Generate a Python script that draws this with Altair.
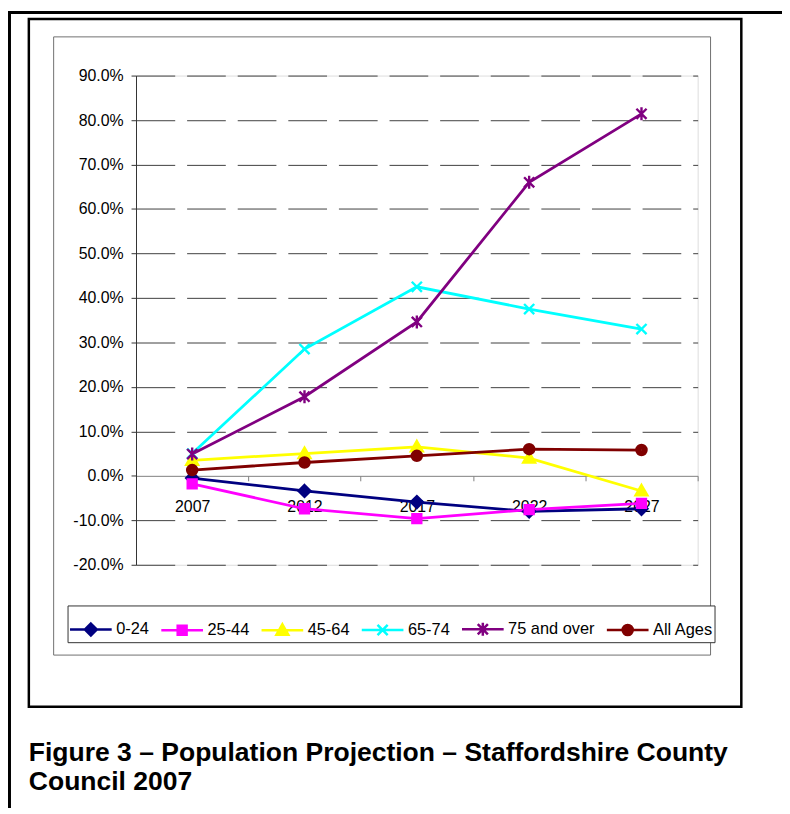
import altair as alt
import pandas as pd

# ---------------- data ----------------
years = ["2007", "2012", "2017", "2022", "2027"]
series = ["0-24", "25-44", "45-64", "65-74", "75 and over", "All Ages"]
v_0_24 = [-0.5, -3.4, -5.9, -8.0, -7.4]
v_25_44 = [-1.8, -7.4, -9.6, -7.6, -6.2]
v_45_64 = [3.5, 5.0, 6.5, 4.0, -3.4]
v_65_74 = [5.0, 28.5, 42.5, 37.5, 33.0]
v_75_over = [4.9, 17.8, 34.6, 66.0, 81.4]
v_all_ages = [1.3, 3.0, 4.5, 6.0, 5.8]
colors = ["#000080", "#FF00FF", "#FFFF00", "#00FFFF", "#800080", "#800000"]
y_ticks = [-20, -10, 0, 10, 20, 30, 40, 50, 60, 70, 80, 90]
caption = ["Figure 3 \u2013 Population Projection \u2013 Staffordshire County",
           "Council 2007"]

values = [v_0_24, v_25_44, v_45_64, v_65_74, v_75_over, v_all_ages]
df = pd.DataFrame(
    [{"year": y, "series": s, "pct": v}
     for s, vals in zip(series, values) for y, v in zip(years, vals)]
)

# ---------------- marker shapes (style) ----------------
def ring_diamond(r, k=1.0):
    a = r * k
    return f"M0,{-a:.3f}L{a:.3f},0L0,{a:.3f}L{-a:.3f},0Z"

def ring_square(r, k=1.0):
    a = r * k
    return f"M{-a:.3f},{-a:.3f}H{a:.3f}V{a:.3f}H{-a:.3f}Z"

def ring_tri(r, k=1.0):
    pts = [(0, -1), (1, 0.75), (-1, 0.75)]
    out = []
    for i, (px, py) in enumerate(pts):
        x = px * r * k
        y = (0.17 + (py - 0.17) * r) * k
        out.append(("M" if i == 0 else "L") + f"{x:.3f},{y:.3f}")
    return "".join(out) + "Z"

def ring_circle(r, k=1.0):
    a = r * k
    return f"M{-a:.3f},0A{a:.3f},{a:.3f} 0 1,0 {a:.3f},0A{a:.3f},{a:.3f} 0 1,0 {-a:.3f},0"

def marker_paths(k=1.0):
    d = "".join(ring_diamond(r, k) for r in (1.0, 0.6, 0.2))
    s = "".join(ring_square(r, k) for r in (0.75, 0.4, 0.05))
    t = "".join(ring_tri(r, k) for r in (1.0, 0.55, 0.15))
    x = f"M{-0.85*k:.3f},{-0.85*k:.3f}L{0.85*k:.3f},{0.85*k:.3f}M{-0.85*k:.3f},{0.85*k:.3f}L{0.85*k:.3f},{-0.85*k:.3f}"
    st = x + f"M0,{-1.1*k:.3f}V{1.1*k:.3f}"
    c = "".join(ring_circle(r, k) for r in (0.85, 0.5, 0.15))
    return [d, s, t, x, st, c]

plot_shapes = marker_paths(1.0)
legend_shapes = ["M-1,0H1" + p for p in marker_paths(6.0 / 21.0)]

FONT = "Arial, Liberation Sans, sans-serif"
W, H = 566, 493
y_min, y_max = -20, 90
zero_offset = -H * (0 - y_min) / (y_max - y_min)

x_enc = alt.X(
    "year:N",
    sort=years,
    scale=alt.Scale(type="band", paddingInner=0, paddingOuter=0),
    axis=alt.Axis(
        title=None, orient="bottom", offset=zero_offset, labelAngle=0,
        domainColor="#808080", tickColor="#808080", tickSize=5,
        tickBand="extent", labelPadding=18, labelFont=FONT, labelFontSize=16,
        labelColor="black", grid=False,
    ),
)
y_enc = alt.Y(
    "pct:Q",
    scale=alt.Scale(domain=[y_min, y_max], nice=False, zero=False),
    axis=alt.Axis(
        title=None, values=y_ticks,
        labelExpr="(datum.value < 0 ? '-' : '') + format(abs(datum.value), '.1f') + '%'",
        labelFont=FONT, labelFontSize=16, labelColor="black", labelPadding=8,
        domainColor="#333333", tickColor="#333333", tickSize=5,
        grid=True, gridColor="#404040", gridDash=[39, 12], gridWidth=1,
        gridOpacity={"condition": {"test": "datum.value === 0", "value": 0}, "value": 1},
    ),
)

color_scale = alt.Scale(domain=series, range=colors)

lines = alt.Chart(df).mark_line(strokeWidth=2.8).encode(
    x=x_enc, y=y_enc,
    color=alt.Color("series:N", scale=color_scale, legend=None),
)

points = alt.Chart(df).mark_point(filled=False, strokeWidth=2.4, size=144, opacity=1).encode(
    x=x_enc, y=y_enc,
    color=alt.Color("series:N", scale=color_scale, legend=None),
    shape=alt.Shape("series:N", scale=alt.Scale(domain=series, range=plot_shapes), legend=None),
)

leg = dict(
    title=None, orient="none", legendX=-69, legendY=534, direction="horizontal",
    symbolSize=1764, symbolStrokeWidth=2.5, symbolOpacity=1,
    labelFont=FONT, labelFontSize=16.5, labelColor="black", labelOffset=3,
    columnPadding=6, padding=1, strokeColor="#333333", fillColor="white",
)
legend_layer = alt.Chart(df).mark_point(filled=False, opacity=0, size=1764, strokeWidth=2.5).encode(
    color=alt.Color("series:N", scale=color_scale, legend=alt.Legend(**leg)),
    shape=alt.Shape("series:N", scale=alt.Scale(domain=series, range=legend_shapes),
                    legend=alt.Legend(**leg)),
)

dummy = pd.DataFrame({"k": [0]})
outer_frame = alt.Chart(dummy).mark_rect(fill="transparent", stroke="black", strokeWidth=3).encode(
    x=alt.value(-127.5), x2=alt.value(760), y=alt.value(-63.5), y2=alt.value(800))
chart_box = alt.Chart(dummy).mark_rect(fill="transparent", stroke="black", strokeWidth=2.5).encode(
    x=alt.value(-108), x2=alt.value(610), y=alt.value(-57), y2=alt.value(636))
plot_outline = alt.Chart(dummy).mark_rect(fill="transparent", stroke="#707070", strokeWidth=1).encode(
    x=alt.value(-83), x2=alt.value(579), y=alt.value(-39), y2=alt.value(584))
cap = alt.Chart(dummy).mark_text(
    text=caption, align="left", baseline="alphabetic", font=FONT, fontSize=26.7,
    fontWeight="bold", lineHeight=29, color="black",
).encode(x=alt.value(-108), y=alt.value(691))

chart = alt.layer(
    outer_frame, chart_box, plot_outline, lines, points, legend_layer, cap
).resolve_scale(
    color="independent", shape="independent"
).properties(
    width=W, height=H,
    padding={"left": 129, "top": 65, "right": 85, "bottom": 242},
    autosize=alt.AutoSizeParams(type="none"),
).configure_view(
    stroke="#555555", strokeWidth=1
).configure(background="white")

chart.save("out.html", embed_options={"renderer": "svg", "actions": False})
